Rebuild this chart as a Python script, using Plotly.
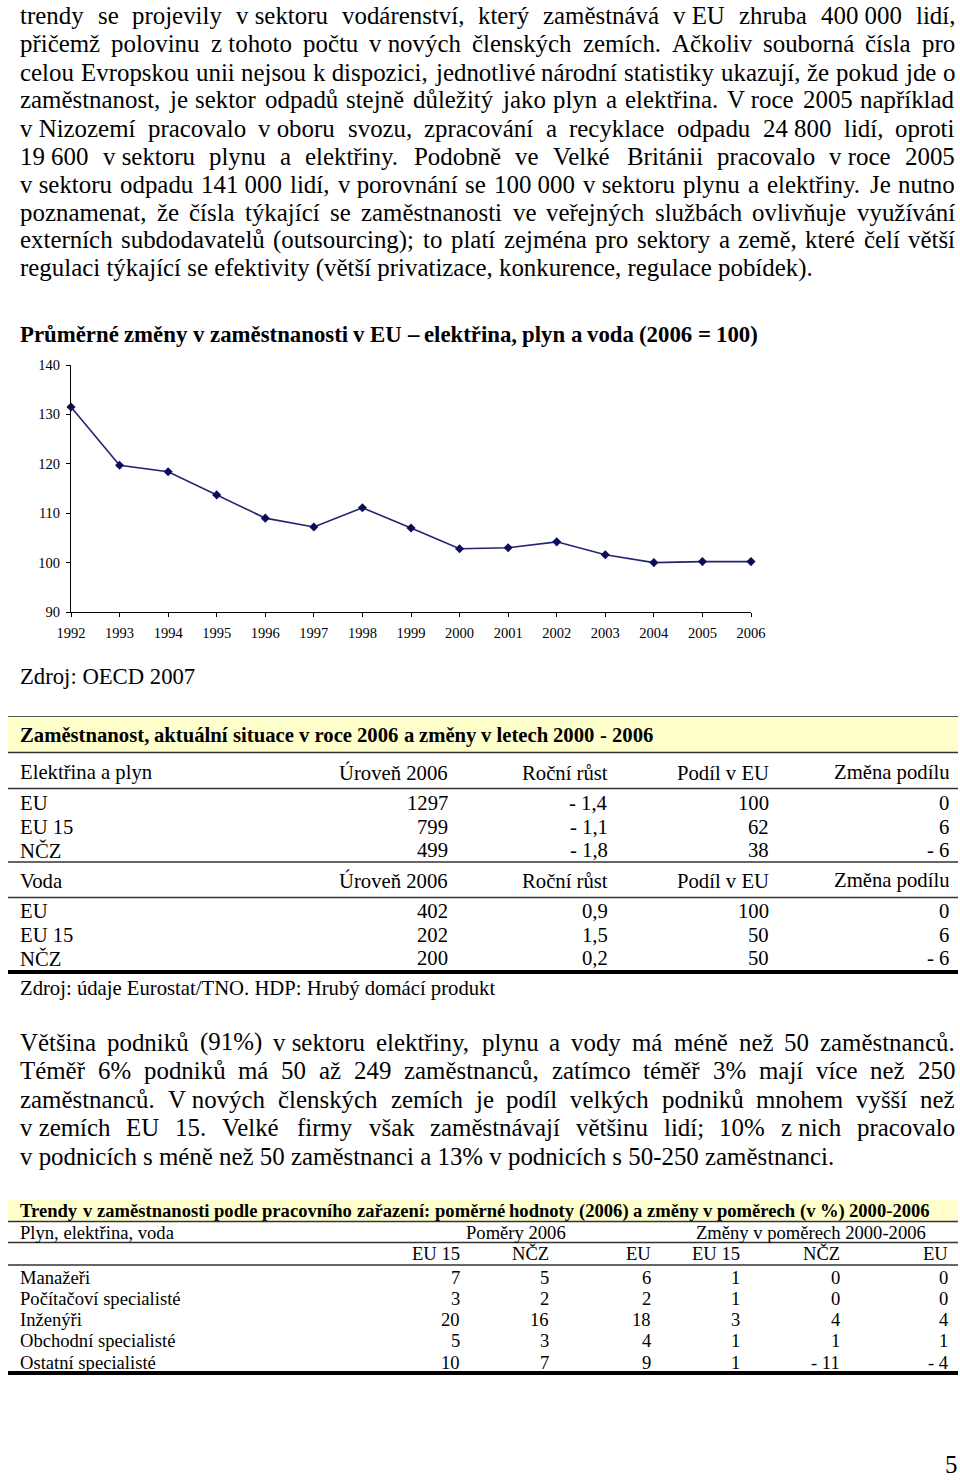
import unicodedata
import plotly.graph_objects as go

W, H = 960, 1482
FONT = "Liberation Serif, Times New Roman, serif"

# ---------------- data ----------------
years = [1992, 1993, 1994, 1995, 1996, 1997, 1998, 1999, 2000, 2001, 2002, 2003, 2004, 2005, 2006]
employment_index = [131.5, 119.7, 118.4, 113.7, 109.0, 107.2, 111.1, 107.0, 102.8, 103.0, 104.2, 101.6, 100.0, 100.2, 100.2]
x_tick_labels = [str(y) for y in years]
y_tick_values = [90, 100, 110, 120, 130, 140]

chart_title = "Průměrné změny v zaměstnanosti v EU – elektřina, plyn a voda (2006 = 100)"
chart_source = "Zdroj: OECD 2007"

para1 = [
    "trendy se projevily v sektoru vodárenství, který zaměstnává v EU zhruba 400 000 lidí,",
    "přičemž polovinu z tohoto počtu v nových členských zemích. Ačkoliv souborná čísla pro",
    "celou Evropskou unii nejsou k dispozici, jednotlivé národní statistiky ukazují, že pokud jde o",
    "zaměstnanost, je sektor odpadů stejně důležitý jako plyn a elektřina. V roce 2005 například",
    "v Nizozemí pracovalo v oboru svozu, zpracování a recyklace odpadu 24 800 lidí, oproti",
    "19 600 v sektoru plynu a elektřiny. Podobně ve Velké Británii pracovalo v roce 2005",
    "v sektoru odpadu 141 000 lidí, v porovnání se 100 000 v sektoru plynu a elektřiny. Je nutno",
    "poznamenat, že čísla týkající se zaměstnanosti ve veřejných službách ovlivňuje využívání",
    "externích subdodavatelů (outsourcing); to platí zejména pro sektory a země, které čelí větší",
    "regulaci týkající se efektivity (větší privatizace, konkurence, regulace pobídek).",
]
para2 = [
    "Většina podniků (91%) v sektoru elektřiny, plynu a vody má méně než 50 zaměstnanců.",
    "Téměř 6% podniků má 50 až 249 zaměstnanců, zatímco téměř 3% mají více než 250",
    "zaměstnanců. V nových členských zemích je podíl velkých podniků mnohem vyšší než",
    "v zemích EU 15. Velké firmy však zaměstnávají většinu lidí; 10% z nich pracovalo",
    "v podnicích s méně než 50 zaměstnanci a 13% v podnicích s 50-250 zaměstnanci.",
]

t1_title = "Zaměstnanost, aktuální situace v roce 2006 a změny v letech 2000 - 2006"
t1_sections = ["Elektřina a plyn", "Voda"]
t1_columns = ["Úroveň 2006", "Roční růst", "Podíl v EU", "Změna podílu"]
t1_regions = ["EU", "EU 15", "NČZ"]
elec_level = ["1297", "799", "499"]
elec_growth = ["- 1,4", "- 1,1", "- 1,8"]
elec_share = ["100", "62", "38"]
elec_share_change = ["0", "6", "- 6"]
water_level = ["402", "202", "200"]
water_growth = ["0,9", "1,5", "0,2"]
water_share = ["100", "50", "50"]
water_share_change = ["0", "6", "- 6"]
t1_source = "Zdroj: údaje Eurostat/TNO. HDP: Hrubý domácí produkt"

t2_title = "Trendy v zaměstnanosti podle pracovního zařazení: poměrné hodnoty (2006) a změny v poměrech (v %) 2000-2006"
t2_group = "Plyn, elektřina, voda"
t2_span_labels = ["Poměry 2006", "Změny v poměrech 2000-2006"]
t2_columns = ["EU 15", "NČZ", "EU", "EU 15", "NČZ", "EU"]
occupations = ["Manažeři", "Počítačoví specialisté", "Inženýři", "Obchodní specialisté", "Ostatní specialisté"]
ratio_eu15 = [7, 3, 20, 5, 10]
ratio_ncz = [5, 2, 16, 3, 7]
ratio_eu = [6, 2, 18, 4, 9]
change_eu15 = [1, 1, 3, 1, 1]
change_ncz = [0, 0, 4, 1, -11]
change_eu = [0, 0, 4, 1, -4]
page_number = "5"

# ---------------- font metrics (Times-compatible) ----------------
REG = dict(a=444, b=500, c=444, d=500, e=444, f=333, g=500, h=500, i=278, j=278, k=500, l=278, m=778,
           n=500, o=500, p=500, q=500, r=333, s=389, t=278, u=500, v=500, w=722, x=500, y=500, z=444,
           A=722, B=667, C=667, D=722, E=611, F=556, G=722, H=722, I=333, J=389, K=722, L=611, M=889,
           N=722, O=722, P=556, Q=722, R=667, S=556, T=611, U=722, V=722, W=944, X=722, Y=722, Z=611)
REG.update({' ': 250, ',': 250, '.': 250, ':': 278, ';': 278, '(': 333, ')': 333, '-': 333,
            '–': 500, '%': 833, '/': 278, '=': 564})
BOLD = dict(a=500, b=556, c=444, d=556, e=444, f=333, g=500, h=556, i=278, j=333, k=556, l=278, m=833,
            n=556, o=500, p=556, q=556, r=444, s=389, t=333, u=556, v=500, w=722, x=500, y=500, z=444,
            A=722, B=667, C=722, D=722, E=667, F=611, G=778, H=778, I=389, J=500, K=778, L=667, M=944,
            N=722, O=778, P=611, Q=778, R=722, S=556, T=667, U=722, V=722, W=1000, X=722, Y=722, Z=667)
BOLD.update({' ': 250, ',': 250, '.': 250, ':': 333, ';': 333, '(': 333, ')': 333, '-': 333,
             '–': 500, '%': 1000, '/': 278, '=': 570})
for dgt in "0123456789":
    REG[dgt] = 500
    BOLD[dgt] = 500


def text_width(s, size, bold=False):
    table = BOLD if bold else REG
    tot = 0
    for ch in s:
        if ch in table:
            tot += table[ch]
        else:
            base = unicodedata.normalize("NFD", ch)[0]
            tot += table.get(base, 500)
    return tot * size / 1000.0


annotations = []
shapes = []


def px(x):
    return x / W


def py(y):
    return 1 - y / H


def add_text(x, y, text, size, bold=False, anchor="left"):
    annotations.append(dict(
        x=px(x), y=py(y), xref="paper", yref="paper", showarrow=False,
        text=("<b>%s</b>" % text) if bold else text,
        xanchor=anchor, yanchor="middle", borderpad=0, borderwidth=0,
        font=dict(family=FONT, size=size, color="black")))


BINDERS = {"v", "V", "z", "s", "k"}


def tokens_of(line):
    words = line.split(" ")
    out = []
    i = 0
    while i < len(words):
        w = words[i]
        while i + 1 < len(words) and (
                w.split(" ")[-1] in BINDERS or
                (w.split(" ")[-1].isdigit() and len(w.split(" ")[-1]) <= 3 and
                 words[i + 1][:3].isdigit() and len(words[i + 1].rstrip(",.")) == 3)):
            i += 1
            w = w + " " + words[i]
        out.append(w)
        i += 1
    return out


def add_justified(line, x0, x1, y, size, bold=False):
    toks = tokens_of(line)
    widths = [text_width(t, size, bold) for t in toks]
    gap = (x1 - x0 - sum(widths)) / max(len(toks) - 1, 1)
    cur = x0
    for k, (t, w) in enumerate(zip(toks, widths)):
        if k == len(toks) - 1 and k > 0:
            add_text(x1, y, t, size, bold, anchor="right")
        else:
            add_text(cur, y, t, size, bold)
        cur += w + gap


def add_hline(y, width=1.5, color="#333333", x0=8, x1=958):
    shapes.append(dict(type="line", xref="paper", yref="paper", x0=px(x0), x1=px(x1),
                       y0=py(y), y1=py(y), line=dict(color=color, width=width)))


def add_band(y0, y1, color="#FFFFCC", x0=8, x1=958):
    shapes.append(dict(type="rect", xref="paper", yref="paper", x0=px(x0), x1=px(x1),
                       y0=py(y1), y1=py(y0), fillcolor=color, line=dict(width=0), layer="below"))


BODY = 24.9
# ---------------- paragraph 1 ----------------
for i, line in enumerate(para1):
    y = 16 + 28.0 * i
    if i == len(para1) - 1:
        add_text(20, y, line, BODY)
    else:
        add_justified(line, 20, 955, y, BODY)

# ---------------- chart ----------------
add_justified(chart_title, 20, 758, 335, 22.8, bold=True)
add_text(20, 676, chart_source, 22.7)

# ---------------- table 1 ----------------
T1 = 20.7
col_right = [448, 608, 769, 949]
add_hline(716.5, width=1, color="#555555")
add_band(717, 752)
add_justified(t1_title, 20, 653, 735, T1, bold=True)
add_hline(752.5)
sections = [
    (t1_sections[0], 772.5, [802.5, 826.5, 850], [elec_level, elec_growth, elec_share, elec_share_change]),
    (t1_sections[1], 880.5, [911, 935, 958], [water_level, water_growth, water_share, water_share_change]),
]
for name, hy, rows_y, cols in sections:
    add_text(20, hy, name, T1)
    for cname, cx in zip(t1_columns, col_right):
        add_text(cx, hy, cname, T1, anchor="right")
    for r, ry in enumerate(rows_y):
        add_text(20, ry, t1_regions[r], T1)
        for col, cx in zip(cols, col_right):
            add_text(cx, ry, col[r], T1, anchor="right")
add_hline(788.5)
add_hline(862)
add_hline(897.5)
add_hline(972, width=4, color="black")
add_text(20, 988.5, t1_source, T1)

# ---------------- paragraph 2 ----------------
for i, line in enumerate(para2):
    y = 1042 + 28.6 * i
    if i == len(para2) - 1:
        add_text(20, y, line, BODY)
    else:
        add_justified(line, 20, 955, y, BODY)

# ---------------- table 2 ----------------
T2 = 18.6
add_band(1200, 1221)
add_justified(t2_title, 20, 930, 1210.5, T2, bold=True)
add_hline(1221.5)
add_text(20, 1232, t2_group, T2)
add_text(516, 1232, t2_span_labels[0], T2, anchor="center")
add_text(811, 1232, t2_span_labels[1], T2, anchor="center")
add_hline(1242.5)
t2_right = [460, 549, 651, 740, 840, 948]
for cname, cx in zip(t2_columns, t2_right):
    add_text(cx, 1253.5, cname, T2, anchor="right")
add_hline(1265)


def fmt(v):
    return ("- %d" % -v) if v < 0 else str(v)


t2_cols = [ratio_eu15, ratio_ncz, ratio_eu, change_eu15, change_ncz, change_eu]
for r, occ in enumerate(occupations):
    ry = 1277 + 21.3 * r
    add_text(20, ry, occ, T2)
    for col, cx in zip(t2_cols, t2_right):
        add_text(cx, ry, fmt(col[r]), T2, anchor="right")
add_hline(1373, width=4, color="black")

add_text(957, 1464, page_number, BODY, anchor="right")

# ---------------- figure ----------------
fig = go.Figure()
fig.add_trace(go.Scatter(
    x=years, y=employment_index, mode="lines+markers", cliponaxis=False,
    line=dict(color="#23236e", width=1.6),
    marker=dict(symbol="diamond", size=7, color="#0c0c5c"),
    showlegend=False, hoverinfo="x+y"))

tick_font = dict(family=FONT, size=14.5, color="black")
fig.update_layout(
    width=W, height=H, autosize=False,
    margin=dict(l=0, r=0, t=0, b=0, pad=0),
    paper_bgcolor="white", plot_bgcolor="white",
    template="none",
    showlegend=False,
    xaxis=dict(domain=[71 / W, 751 / W], range=[1992, 2006], tickmode="array",
               tickvals=years, ticktext=x_tick_labels, ticks="outside", ticklen=4,
               tickcolor="black", showline=True, linecolor="black", linewidth=1,
               showgrid=False, zeroline=False, tickfont=tick_font, ticklabelstandoff=4),
    yaxis=dict(domain=[1 - 612 / H, 1 - 365 / H], range=[90, 140], tickmode="array",
               tickvals=y_tick_values, ticks="outside", ticklen=4, tickcolor="black",
               showline=True, linecolor="black", linewidth=1, showgrid=False,
               zeroline=False, tickfont=tick_font, ticklabelstandoff=3),
    annotations=annotations,
    shapes=shapes,
)

fig.write_html("out.html",
               config={"displayModeBar": False},
               post_script="document.body.style.margin='0';document.body.style.overflow='hidden';")
